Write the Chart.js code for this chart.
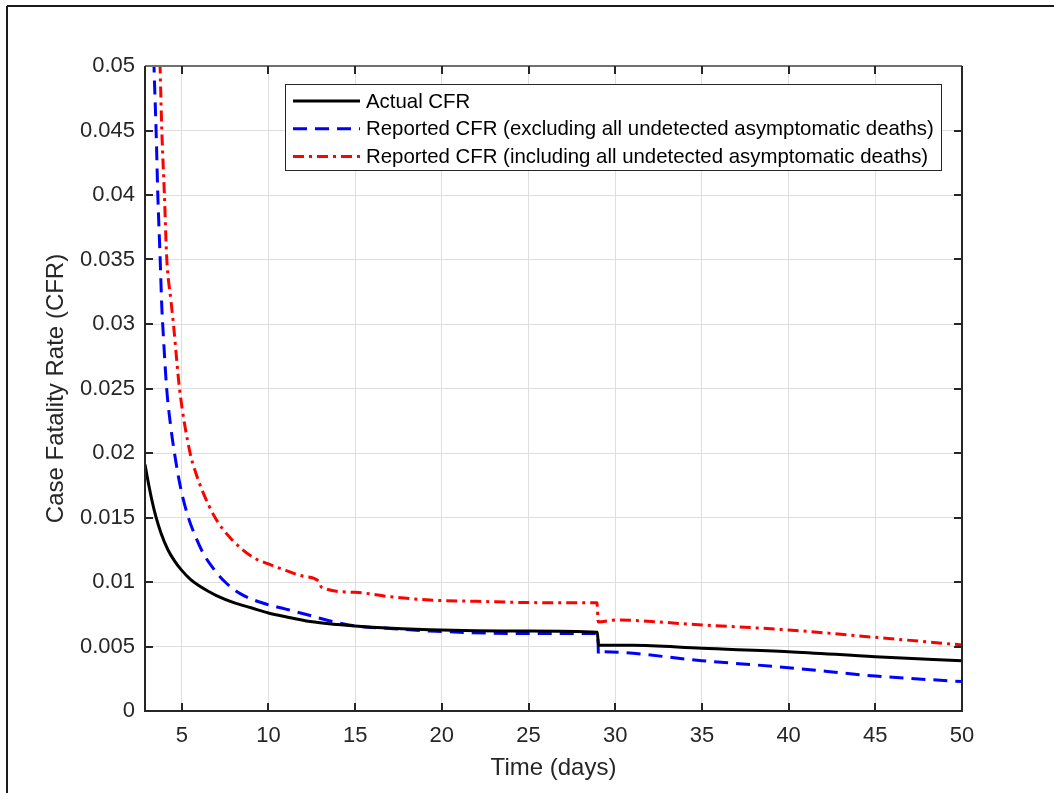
<!DOCTYPE html>
<html>
<head>
<meta charset="utf-8">
<title>Case Fatality Rate</title>
<script src="https://cdn.jsdelivr.net/npm/chart.js@4.4.1/dist/chart.umd.min.js"></script>
<style>
   html, body { margin:0; padding:0; background:#fff; }
   canvas { display:block; }
</style>
</head>
<body>
<canvas id="cfrChart" width="1054" height="793"></canvas>
<script>

/* data */
let xTicks = [5,10,15,20,25,30,35,40,45,50];
let yTicks = [0,0.005,0.01,0.015,0.02,0.025,0.03,0.035,0.04,0.045,0.05];

let seriesNames = [
   "Actual CFR",
   "Reported CFR (excluding all undetected asymptomatic deaths)",
   "Reported CFR (including all undetected asymptomatic deaths)"
];

let actualDays = [2.88,3.1,3.3,3.5,3.8,4.2,4.6,5.0,5.5,6.0,6.5,7.0,8.0,9.0,10,11,12.4,14,16,19.3,25,28.97,29.03,31,35,40,45,50];
let actualCfr  = [0.0191,0.0175,0.0162,0.0151,0.0138,0.0125,0.0116,0.0109,0.0102,0.0097,0.0093,0.00895,0.0084,0.0080,0.0076,0.0073,0.00693,0.0067,0.0065,0.0063,0.0062,0.0061,0.0051,0.0051,0.00486,0.0046,0.00421,0.0039];

let excludedDays = [3.33,3.40,3.52,3.62,3.75,3.85,3.90,4.13,4.35,4.58,4.95,5.38,5.8,6.25,6.85,7.5,8.37,9.71,11,12.3,13.5,15,17,19.3,25,29.0,29.03,29.2,35,40,45,50];
let excludedCfr  = [0.054,0.050,0.045,0.040,0.0352,0.0313,0.030,0.025,0.0222,0.020,0.0172,0.015,0.0135,0.0122,0.0110,0.0100,0.0091,0.00835,0.0079,0.00744,0.0070,0.0066,0.0064,0.0062,0.0060,0.0060,0.0044,0.0046,0.0039,0.00336,0.00271,0.00228];

let includedDays = [3.68,3.75,3.85,4.0,4.13,4.37,4.52,4.87,5.48,5.8,6.15,6.92,7.88,9.13,10,11,12,12.95,13.05,15,17,19.3,22,25.7,28.95,29.02,30,35,40,45,50];
let includedCfr  = [0.054,0.050,0.045,0.040,0.0352,0.0319,0.030,0.025,0.020,0.0185,0.0172,0.015,0.0133,0.0119,0.0114,0.0109,0.01045,0.0100,0.0096,0.0092,0.00886,0.0086,0.0085,0.0084,0.0084,0.0069,0.00705,0.00667,0.00628,0.00571,0.00512];

let fontFamily = '"Liberation Sans", Arial, Helvetica, sans-serif';
let axisColor = "#262626";

function toPoints(days, values){

   return days.map(function(d, i){
      return { x: d, y: values[i] };
   });

}

/* kotak, tick ke dalam, legend ala matlab */
let matlabLook = {

   id: "matlabLook",

   beforeDraw: function(chart){

      let ctx = chart.ctx;

      ctx.save();
      ctx.fillStyle = "#fff";
      ctx.fillRect(0,0,chart.width,chart.height);

      ctx.strokeStyle = "#1a1a1a";
      ctx.lineWidth = 2;
      ctx.beginPath();
      ctx.moveTo(7,6);
      ctx.lineTo(chart.width,6);
      ctx.moveTo(7,6);
      ctx.lineTo(7,chart.height);
      ctx.stroke();
      ctx.restore();

   },

   afterDatasetsDraw: function(chart){

      let ctx = chart.ctx;
      let a = chart.chartArea;
      let xs = chart.scales.x;
      let ys = chart.scales.y;

      ctx.save();
      ctx.lineWidth = 2;

      ctx.strokeStyle = "#707070";
      ctx.beginPath();
      ctx.moveTo(a.left,a.top);
      ctx.lineTo(a.right,a.top);
      ctx.stroke();

      ctx.strokeStyle = axisColor;
      ctx.beginPath();
      ctx.moveTo(a.left,a.top);
      ctx.lineTo(a.left,a.bottom);
      ctx.lineTo(a.right,a.bottom);
      ctx.lineTo(a.right,a.top);

      xTicks.forEach(function(v){
         let px = Math.round(xs.getPixelForValue(v));
         if(px >= a.right - 1) return;
         ctx.moveTo(px,a.bottom);
         ctx.lineTo(px,a.bottom - 8);
         ctx.moveTo(px,a.top);
         ctx.lineTo(px,a.top + 8);
      });

      yTicks.forEach(function(v){
         let py = Math.round(ys.getPixelForValue(v));
         if(py <= a.top + 1 || py >= a.bottom - 1) return;
         ctx.moveTo(a.left,py);
         ctx.lineTo(a.left + 8,py);
         ctx.moveTo(a.right,py);
         ctx.lineTo(a.right - 8,py);
      });

      ctx.stroke();
      ctx.restore();

   },

   afterDraw: function(chart){

      let ctx = chart.ctx;

      ctx.save();
      ctx.fillStyle = "#fff";
      ctx.fillRect(285.5,84.5,656,86);
      ctx.strokeStyle = axisColor;
      ctx.lineWidth = 1;
      ctx.strokeRect(285.5,84.5,656,86);

      ctx.font = "20.4px " + fontFamily;
      ctx.textBaseline = "middle";
      ctx.textAlign = "left";

      chart.data.datasets.forEach(function(ds, i){

         let y = 101 + i * 27.7;

         ctx.strokeStyle = ds.borderColor;
         ctx.lineWidth = ds.borderWidth;
         ctx.setLineDash(ds.borderDash || []);
         ctx.beginPath();
         ctx.moveTo(293,y);
         ctx.lineTo(360,y);
         ctx.stroke();
         ctx.setLineDash([]);

         ctx.fillStyle = "#000";
         ctx.fillText(ds.label,366,y + 1);

      });

      ctx.restore();

   }

};

let ctx = document.getElementById("cfrChart").getContext("2d");

let cfrChart = new Chart(ctx, {

   type: "line",

   data: {

      datasets: [

         {
            label: seriesNames[0],
            data: toPoints(actualDays, actualCfr),
            borderColor: "#000000",
            borderWidth: 3,
            pointRadius: 0,
            fill: false,
            cubicInterpolationMode: "monotone",
            clip: 0
         },

         {
            label: seriesNames[1],
            data: toPoints(excludedDays, excludedCfr),
            borderColor: "#0000ff",
            borderWidth: 3,
            borderDash: [14,8],
            pointRadius: 0,
            fill: false,
            cubicInterpolationMode: "monotone",
            clip: 0
         },

         {
            label: seriesNames[2],
            data: toPoints(includedDays, includedCfr),
            borderColor: "#ff0000",
            borderWidth: 3,
            borderDash: [11,5,3,5],
            pointRadius: 0,
            fill: false,
            cubicInterpolationMode: "monotone",
            clip: 0
         }

      ]

   },

   options: {

      responsive: false,
      animation: false,
      devicePixelRatio: 1,

      layout: {
         padding: { top: 66, right: 92, left: 0, bottom: 0 }
      },

      plugins: {
         legend: { display: false },
         tooltip: { enabled: false }
      },

      scales: {

         x: {
            type: "linear",
            min: 2.88,
            max: 50,
            afterBuildTicks: function(scale){
               scale.ticks = xTicks.map(function(v){ return { value: v }; });
            },
            afterFit: function(scale){
               scale.height = 82;
            },
            ticks: {
               autoSkip: false,
               maxRotation: 0,
               padding: 12,
               color: axisColor,
               font: { family: fontFamily, size: 22 },
               callback: function(value){ return String(value); }
            },
            grid: {
               color: "#dfdfdf",
               lineWidth: 1,
               drawTicks: false
            },
            border: { display: false },
            title: {
               display: true,
               text: "Time (days)",
               color: axisColor,
               font: { family: fontFamily, size: 24 },
               padding: { top: 0, bottom: 10 }
            }
         },

         y: {
            type: "linear",
            min: 0,
            max: 0.05,
            afterBuildTicks: function(scale){
               scale.ticks = yTicks.map(function(v){ return { value: v }; });
            },
            afterFit: function(scale){
               scale.width = 145;
            },
            ticks: {
               autoSkip: false,
               padding: 10,
               color: axisColor,
               font: { family: fontFamily, size: 22 },
               callback: function(value){ return String(value); }
            },
            grid: {
               color: "#dfdfdf",
               lineWidth: 1,
               drawTicks: false
            },
            border: { display: false },
            title: {
               display: true,
               text: "Case Fatality Rate (CFR)",
               color: axisColor,
               font: { family: fontFamily, size: 24 },
               padding: { top: 42, bottom: 0 }
            }
         }

      }

   },

   plugins: [matlabLook]

});

</script>
</body>
</html>
